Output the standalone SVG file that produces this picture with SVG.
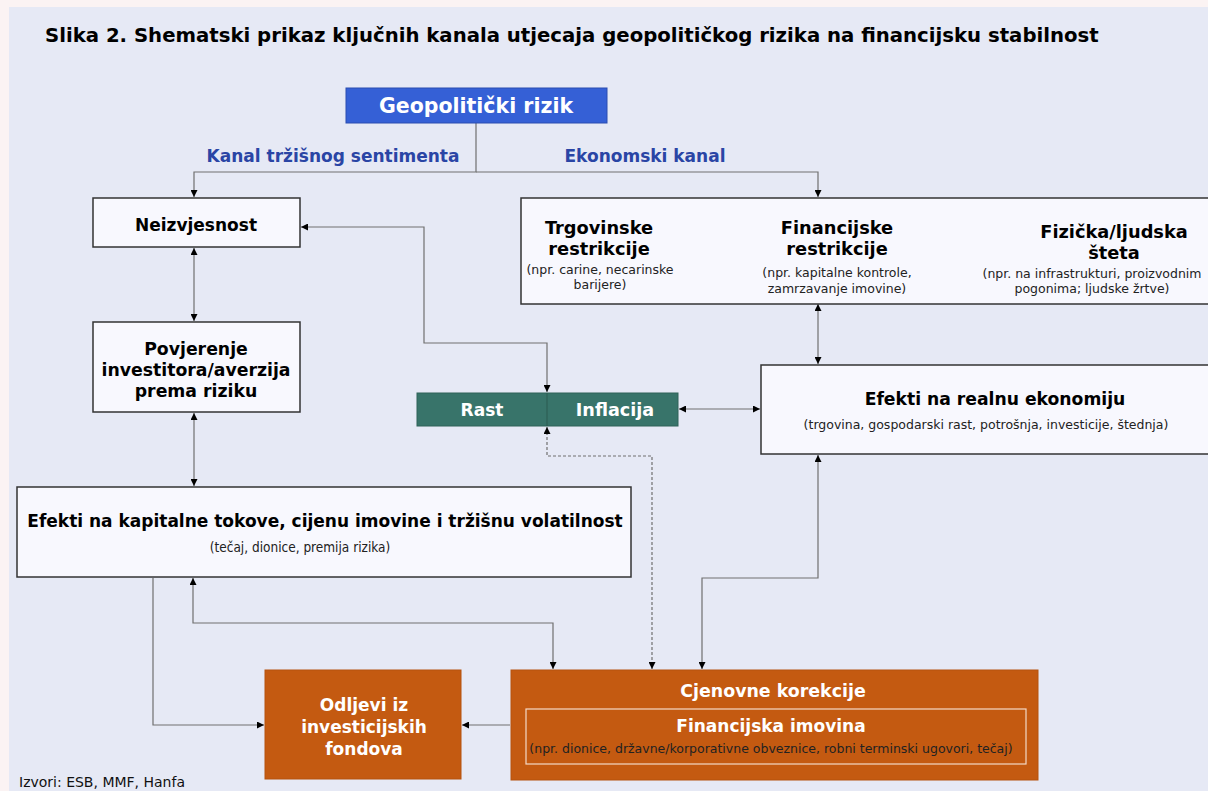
<svg xmlns="http://www.w3.org/2000/svg" width="1208" height="791" viewBox="0 0 1208 791">
<defs>
<marker id="ah" viewBox="0 0 10 10" refX="10" refY="5" markerWidth="7" markerHeight="7" markerUnits="userSpaceOnUse" orient="auto-start-reverse">
<path d="M0,0 L10,5 L0,10 z" fill="#000"/>
</marker>
<style>
.t{font-family:"DejaVu Sans",Verdana,sans-serif;}
.b{font-family:"DejaVu Sans",Verdana,sans-serif;font-weight:bold;font-size:17px;text-anchor:middle;fill:#000;}
.w{fill:#fff;}
.s{font-family:"DejaVu Sans",Verdana,sans-serif;font-size:12.5px;text-anchor:middle;fill:#222;}
.box{fill:#F8F8FE;stroke:#333;stroke-width:1.5;}
.c{fill:none;stroke:#707070;stroke-width:1.2;}
.d{fill:none;stroke:#707070;stroke-width:1.2;stroke-dasharray:3,2;}
.lbl{font-family:"DejaVu Sans",Verdana,sans-serif;font-weight:bold;font-size:17px;fill:#2A45A5;text-anchor:middle;}
</style>
</defs>
<rect x="0" y="0" width="1208" height="791" fill="#FBF3F3"/>
<rect x="9" y="7" width="1199" height="784" fill="#E6E9F5"/>
<text class="t" x="45" y="42" font-size="19.7" font-weight="bold" fill="#000">Slika 2. Shematski prikaz ključnih kanala utjecaja geopolitičkog rizika na financijsku stabilnost</text>

<g id="connectors">
<path class="c" d="M476,123 V172 H194 V197" marker-end="url(#ah)"/>
<path class="c" d="M476,172 H818 V197" marker-end="url(#ah)"/>
<path class="c" d="M194,248 V321" marker-start="url(#ah)" marker-end="url(#ah)"/>
<path class="c" d="M194,413 V486" marker-start="url(#ah)" marker-end="url(#ah)"/>
<path class="c" d="M301,227 H424 V343 H547 V392" marker-start="url(#ah)" marker-end="url(#ah)"/>
<path class="c" d="M818,304 V364" marker-start="url(#ah)" marker-end="url(#ah)"/>
<path class="c" d="M679,409 H760" marker-start="url(#ah)" marker-end="url(#ah)"/>
<path class="d" d="M547,427 V456 H652 V669" marker-start="url(#ah)" marker-end="url(#ah)"/>
<path class="c" d="M153,578 V725 H264" marker-end="url(#ah)"/>
<path class="c" d="M193,578 V623 H553 V669" marker-start="url(#ah)" marker-end="url(#ah)"/>
<path class="c" d="M818,455 V578 H702 V669" marker-start="url(#ah)" marker-end="url(#ah)"/>
<path class="c" d="M510,725 H462" marker-end="url(#ah)"/>
</g>

<g id="geo">
<rect x="346" y="88" width="261" height="35" fill="#3560D6" stroke="#2A4CB0" stroke-width="1"/>
<text class="b w" x="476" y="113" style="font-size:20.5px">Geopolitički rizik</text>
</g>
<text class="lbl" x="333" y="162">Kanal tržišnog sentimenta</text>
<text class="lbl" x="645" y="162">Ekonomski kanal</text>

<g id="neizvjesnost">
<rect class="box" x="93" y="198" width="207" height="49"/>
<text class="b" x="196" y="231">Neizvjesnost</text>
</g>

<g id="povjerenje">
<rect class="box" x="93" y="322" width="207" height="90"/>
<text class="b" x="196" y="355" style="font-size:17.3px">Povjerenje</text>
<text class="b" x="196" y="376" style="font-size:17.3px">investitora/averzija</text>
<text class="b" x="196" y="397" style="font-size:17.3px">prema riziku</text>
</g>

<g id="kapital">
<rect class="box" x="17" y="487" width="614" height="90"/>
<text class="b" x="325" y="527">Efekti na kapitalne tokove, cijenu imovine i tržišnu volatilnost</text>
<text class="s" x="300" y="552" style="font-family:'DejaVu Sans Condensed','DejaVu Sans',sans-serif;font-stretch:condensed;font-size:13.5px">(tečaj, dionice, premija rizika)</text>
</g>

<g id="restrikcije">
<rect class="box" x="521" y="198" width="700" height="106"/>
<text class="b" x="599" y="234" style="font-size:17.8px">Trgovinske</text>
<text class="b" x="599" y="255" style="font-size:17.8px">restrikcije</text>
<text class="s" x="600" y="274">(npr. carine, necarinske</text>
<text class="s" x="600" y="289">barijere)</text>
<text class="b" x="837" y="234" style="font-size:17.8px">Financijske</text>
<text class="b" x="837" y="255" style="font-size:17.8px">restrikcije</text>
<text class="s" x="837" y="277">(npr. kapitalne kontrole,</text>
<text class="s" x="837" y="293">zamrzavanje imovine)</text>
<text class="b" x="1114" y="238" style="font-size:17.8px">Fizička/ljudska</text>
<text class="b" x="1114" y="259" style="font-size:17.8px">šteta</text>
<text class="s" x="1092" y="278">(npr. na infrastrukturi, proizvodnim</text>
<text class="s" x="1092" y="293">pogonima; ljudske žrtve)</text>
</g>

<g id="rast-inflacija">
<rect x="417" y="393" width="261" height="33" fill="#38746A" stroke="#2F6358" stroke-width="1"/>
<line x1="547" y1="393" x2="547" y2="426" stroke="#2A5A50" stroke-width="1"/>
<text class="b w" x="482" y="416">Rast</text>
<text class="b w" x="615" y="416" style="font-size:17.6px">Inflacija</text>
</g>

<g id="realna">
<rect class="box" x="761" y="365" width="460" height="89"/>
<text class="b" x="995" y="405" style="font-size:17.2px">Efekti na realnu ekonomiju</text>
<text class="s" x="986" y="429">(trgovina, gospodarski rast, potrošnja, investicije, štednja)</text>
</g>

<g id="odljevi">
<rect x="265" y="670" width="196" height="109" fill="#C45A11" stroke="#B5530F" stroke-width="1"/>
<text class="b w" x="364" y="711">Odljevi iz</text>
<text class="b w" x="364" y="733">investicijskih</text>
<text class="b w" x="364" y="755">fondova</text>
</g>

<g id="cjenovne">
<rect x="511" y="670" width="527" height="110" fill="#C45A11" stroke="#B5530F" stroke-width="1"/>
<text class="b w" x="773" y="697" style="font-size:17.4px">Cjenovne korekcije</text>
<rect x="526" y="709" width="500" height="55" fill="none" stroke="#F3D9C8" stroke-width="1.2"/>
<text class="b w" x="771" y="732">Financijska imovina</text>
<text class="s w" x="771" y="753">(npr. dionice, državne/korporativne obveznice, robni terminski ugovori, tečaj)</text>
</g>

<text class="t" x="19" y="787" font-size="14" fill="#111">Izvori: ESB, MMF, Hanfa</text>
</svg>
